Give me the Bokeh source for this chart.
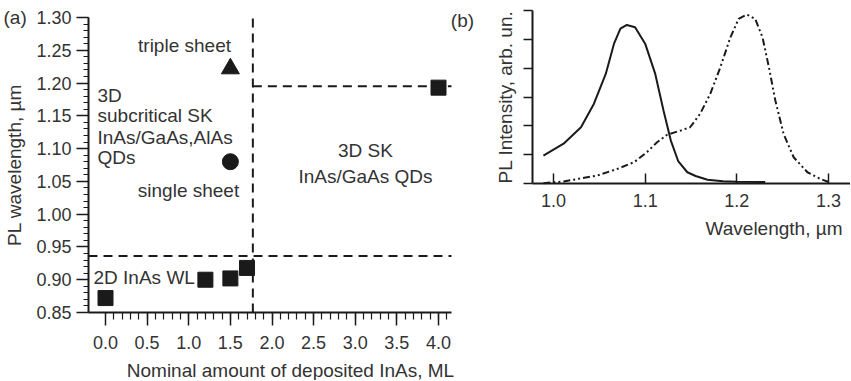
import numpy as np
from math import pi
from bokeh.plotting import figure
from bokeh.models import FixedTicker, PrintfTickFormatter, Label, Range1d
from bokeh.layouts import row
from bokeh.embed import file_html
from bokeh.resources import INLINE
from bokeh.core.properties import value

FONT = "Liberation Sans"
TXT = "#333333"
INK = "#1a1a1a"

# ---------------- data (panel a) ----------------
ml_wl = [0.0, 1.2, 1.5, 1.7]          # 2D wetting layer points
pl_wl = [0.872, 0.900, 0.902, 0.918]
ml_sk = [4.0]                          # 3D SK QDs
pl_sk = [1.193]
ml_triple = [1.5]                      # triple sheet
pl_triple = [1.222]
ml_single = [1.5]                      # single sheet
pl_single = [1.080]
crit_ml = 1.77                         # critical thickness
wl_limit = 0.936                       # WL / QD boundary
sk_limit = 1.195                       # SK boundary
y_ticks_a = [0.85, 0.90, 0.95, 1.00, 1.05, 1.10, 1.15, 1.20, 1.25, 1.30]
x_ticks_a = [0.0, 0.5, 1.0, 1.5, 2.0, 2.5, 3.0, 3.5, 4.0]

# ---------------- data (panel b) ----------------
wl_solid = [0.989, 1.011, 1.030, 1.044, 1.057, 1.066, 1.073, 1.080, 1.089, 1.100,
            1.111, 1.120, 1.128, 1.136, 1.146, 1.155, 1.168, 1.185, 1.200, 1.231]
int_solid = [0.97, 1.38, 1.95, 2.76, 3.80, 4.85, 5.37, 5.50, 5.42, 4.85,
             3.80, 2.53, 1.49, 0.78, 0.39, 0.26, 0.13, 0.08, 0.06, 0.05]
wl_dash = [0.989, 1.011, 1.048, 1.070, 1.088, 1.102, 1.113, 1.124, 1.139, 1.149,
           1.160, 1.171, 1.182, 1.193, 1.202, 1.211, 1.220, 1.228, 1.235, 1.242,
           1.251, 1.262, 1.277, 1.291, 1.300]
int_dash = [0.01, 0.07, 0.28, 0.51, 0.74, 1.09, 1.43, 1.69, 1.84, 1.95,
            2.42, 3.11, 4.03, 5.07, 5.71, 5.86, 5.71, 5.07, 4.03, 2.88,
            1.72, 0.91, 0.39, 0.16, 0.05]
x_ticks_b = [1.0, 1.1, 1.2, 1.3]
y_ticks_b = [0, 1, 2, 3, 4, 5, 6]

# ---------------- layout constants (pixels) ----------------
H = 380
W1, W2 = 480, 370
# panel a: frame spans the whole canvas, axes placed with fixed_location
ax_px = 83.25            # px per ML
ax_0 = 105               # canvas x of 0.0 ML
ay_px = 655.56           # px per µm
ay_0 = 312               # canvas y of 0.85 µm
a_x0 = -ax_0 / ax_px
a_x1 = (W1 - ax_0) / ax_px
a_y0 = 0.85 - (H - ay_0) / ay_px
a_y1 = 0.85 + ay_0 / ay_px
a_axis_x = -17 / ax_px   # y-axis position
a_right = 4.156
# panel b
bx_px = 916.67
bx_0 = 73                # canvas x of 1.0 µm
by_px = 28.833
by_0 = 183               # canvas y of 0
b_x0 = 1.0 - bx_0 / bx_px
b_x1 = 1.0 + (W2 - bx_0) / bx_px
b_y0 = -(H - by_0) / by_px
b_y1 = by_0 / by_px
b_axis_x = 1.0 - 21 / bx_px


def base_fig(w, xr, yr):
    p = figure(width=w, height=H, x_range=Range1d(*xr), y_range=Range1d(*yr),
               output_backend="svg", toolbar_location=None,
               min_border_left=0, min_border_right=0, min_border_top=0,
               min_border_bottom=0)
    p.frame_align = False
    p.outline_line_color = None
    p.xgrid.visible = False
    p.ygrid.visible = False
    p.background_fill_color = None
    p.border_fill_color = None
    for ax in (p.xaxis[0], p.yaxis[0]):
        ax.axis_line_color = INK
        ax.axis_line_width = 2
        ax.major_tick_line_color = INK
        ax.minor_tick_line_color = INK
        ax.major_tick_line_width = 1.5
        ax.minor_tick_line_width = 1.2
        ax.major_label_text_font = FONT
        ax.major_label_text_color = TXT
        ax.major_label_text_font_size = "18px"
    return p


def label(p, x, y, text, align="center", angle=0.0, size="19px"):
    p.add_layout(Label(x=x, y=y, text=text, text_align=align, angle=angle,
                       text_baseline="middle", text_font=FONT,
                       text_font_size=size, text_color=TXT))


# ---------------- panel (a) ----------------
p1 = base_fig(W1, (a_x0, a_x1), (a_y0, a_y1))
minor_x = [round(v, 2) for v in np.arange(0.1, 4.15, 0.1)]
minor_y = [round(v, 3) for v in np.arange(0.85, 1.305, 0.01)]
p1.xaxis.ticker = FixedTicker(ticks=x_ticks_a, minor_ticks=minor_x)
p1.yaxis.ticker = FixedTicker(ticks=y_ticks_a, minor_ticks=minor_y)
p1.xaxis.formatter = PrintfTickFormatter(format="%.1f")
p1.yaxis.formatter = PrintfTickFormatter(format="%.2f")
p1.xaxis.fixed_location = 0.85
p1.yaxis.fixed_location = a_axis_x
p1.xaxis.bounds = (a_axis_x, a_right)
p1.yaxis.bounds = (0.85, 1.30)
p1.xaxis.major_tick_out = 13
p1.xaxis.major_tick_in = 0
p1.xaxis.minor_tick_out = 7
p1.xaxis.minor_tick_in = 0
p1.yaxis.major_tick_out = 12
p1.yaxis.major_tick_in = 0
p1.yaxis.minor_tick_out = 5
p1.yaxis.minor_tick_in = 0
p1.xaxis.major_label_standoff = 10
p1.yaxis.major_label_standoff = 5

# boundaries
dash = "9 6"
p1.line([crit_ml, crit_ml], [0.85, 1.30], line_color=INK, line_width=2, line_dash=dash)
p1.line([a_axis_x, a_right], [wl_limit, wl_limit], line_color=INK, line_width=2, line_dash=dash)
p1.line([crit_ml, a_right], [sk_limit, sk_limit], line_color=INK, line_width=2, line_dash=dash)

# markers
p1.scatter(ml_wl, pl_wl, marker="square", size=15, color=INK)
p1.scatter(ml_sk, pl_sk, marker="square", size=15, color=INK)
p1.scatter(ml_triple, pl_triple, marker="triangle", size=18, color=INK)
p1.scatter(ml_single, pl_single, marker="circle", size=16, color=INK)

txt = dict(text_font=value(FONT), text_font_size="19px", text_color=TXT,
           text_baseline="middle")
p1.text(x=[0.949, 0.997, 3.123, 3.123], y=[1.2573, 1.0361, 1.0971, 1.0575],
        text=["triple sheet", "single sheet", "3D SK", "InAs/GaAs QDs"],
        text_align="center", **txt)
p1.text(x=[-0.096, -0.096, -0.096, -0.096, -0.144],
        y=[1.181, 1.1505, 1.117, 1.0865, 0.9034],
        text=["3D", "subcritical SK", "InAs/GaAs,AlAs", "QDs", "2D InAs WL"],
        text_align="left", **txt)

label(p1, -1.2252, 1.30, "(a)", align="left")
label(p1, 4.288, 1.2954, "(b)")
label(p1, -1.0931, 1.075, "PL wavelength, µm", angle=pi / 2)
label(p1, 2.222, 0.7615, "Nominal amount of deposited InAs, ML")

# ---------------- panel (b) ----------------
p2 = base_fig(W2, (b_x0, b_x1), (b_y0, b_y1))
p2.xaxis.ticker = FixedTicker(ticks=x_ticks_b, minor_ticks=[])
p2.yaxis.ticker = FixedTicker(ticks=y_ticks_b, minor_ticks=[])
p2.xaxis.formatter = PrintfTickFormatter(format="%.1f")
p2.xaxis.fixed_location = 0
p2.yaxis.fixed_location = b_axis_x
p2.xaxis.bounds = (b_axis_x, b_x1)
p2.yaxis.bounds = (0, 6)
p2.xaxis.major_tick_in = 10
p2.xaxis.major_tick_out = 0
p2.yaxis.major_tick_out = 9
p2.yaxis.major_tick_in = 0
p2.xaxis.major_label_standoff = 10
p2.yaxis.major_label_text_font_size = "0px"

p2.line(wl_solid, int_solid, line_color=INK, line_width=2)
p2.line(wl_dash, int_dash, line_color=INK, line_width=2, line_dash="7 3 2 3 2 3")

label(p2, 0.94764, 3.0, "PL Intensity, arb. un.", angle=pi / 2)
label(p2, 1.31527, -1.5607, "Wavelength, µm", align="right")

layout = row(p1, p2)
open("out.html", "w").write(file_html(layout, INLINE))
